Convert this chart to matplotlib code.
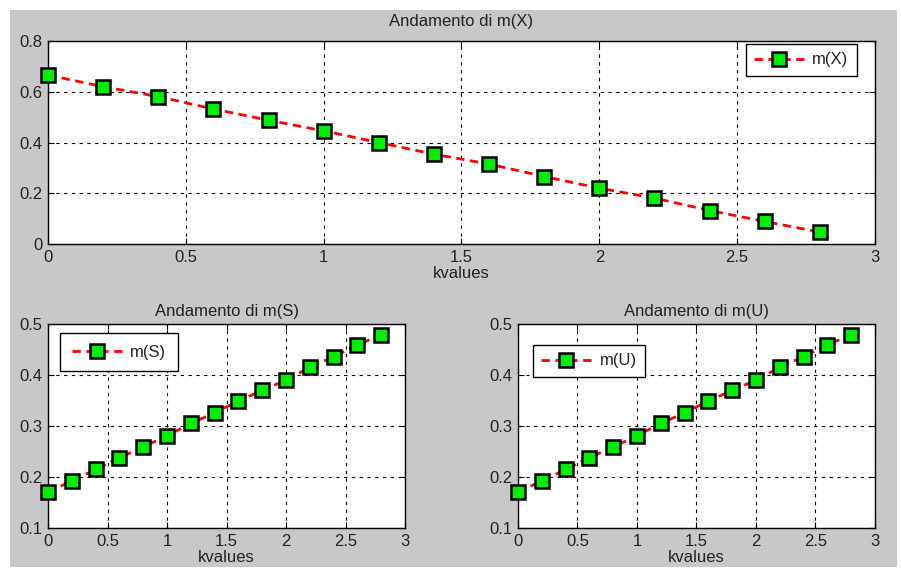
import numpy as np
import matplotlib.pyplot as plt
from matplotlib.patches import Rectangle
from matplotlib.ticker import FuncFormatter

# data
kvalues = [0.0, 0.2, 0.4, 0.6, 0.8, 1.0, 1.2, 1.4, 1.6, 1.8, 2.0, 2.2, 2.4, 2.6, 2.8]
m_x = [0.666, 0.620, 0.581, 0.532, 0.488, 0.446, 0.400, 0.354, 0.315,
       0.266, 0.220, 0.181, 0.132, 0.089, 0.047]
m_s = [0.171, 0.192, 0.215, 0.238, 0.259, 0.281, 0.305, 0.326, 0.349,
       0.370, 0.390, 0.415, 0.436, 0.459, 0.479]
m_u = [0.171, 0.192, 0.215, 0.238, 0.259, 0.281, 0.305, 0.326, 0.349,
       0.370, 0.390, 0.415, 0.436, 0.459, 0.479]

x_ticks = [0, 0.5, 1, 1.5, 2, 2.5, 3]
y_ticks_top = [0, 0.2, 0.4, 0.6, 0.8]
y_ticks_bottom = [0.1, 0.2, 0.3, 0.4, 0.5]

plt.rcParams['font.family'] = ['Liberation Sans', 'DejaVu Sans']
FS = 12

GREY = '#c8c8c8'
TXT = '#222222'


def fmt(v, pos):
    return f"{v:g}"


def style_axes(ax, yticks, title, title_pad=6):
    ax.set_xlim(0, 3)
    ax.set_ylim(yticks[0], yticks[-1])
    ax.set_xticks(x_ticks)
    ax.set_yticks(yticks)
    ax.xaxis.set_major_formatter(FuncFormatter(fmt))
    ax.yaxis.set_major_formatter(FuncFormatter(fmt))
    ax.tick_params(direction='in', length=4, width=0.8, top=True, right=True,
                   labelsize=FS, colors='black', pad=4)
    for tl in ax.get_xticklabels() + ax.get_yticklabels():
        tl.set_color(TXT)
    ax.grid(True, color='black', linestyle=(0, (3, 4)), linewidth=0.8)
    ax.set_axisbelow(True)
    for sp in ax.spines.values():
        sp.set_linewidth(1.0)
    ax.set_xlabel('kvalues', fontsize=FS, labelpad=1, color=TXT)
    ax.set_title(title, fontsize=FS, pad=title_pad, color=TXT)


def plot_series(ax, y, label):
    ax.plot(kvalues, y, linestyle=(0, (3, 2)), color='#ff0000', linewidth=2.0,
            marker='s', markersize=10, markerfacecolor='#00ee00',
            markeredgecolor='black', markeredgewidth=1.8, label=label,
            zorder=3, clip_on=False)


def add_legend(ax, loc, anchor, borderpad=0.5):
    leg = ax.legend(loc=loc, bbox_to_anchor=anchor, borderaxespad=0,
                    fancybox=False, framealpha=1, edgecolor='black',
                    handlelength=3.0, handletextpad=0.5, fontsize=FS,
                    borderpad=borderpad)
    leg.get_frame().set_linewidth(1.0)
    for t in leg.get_texts():
        t.set_color(TXT)


fig = plt.figure(figsize=(9.01, 5.72), dpi=100, facecolor='white')
fig.patches.append(Rectangle((10 / 901, 5 / 572), 887 / 901, 557 / 572,
                             transform=fig.transFigure, facecolor=GREY,
                             edgecolor='none', zorder=-10))

ax_top = fig.add_axes([0.0533, 0.5734, 0.9178, 0.3549])
plot_series(ax_top, m_x, 'm(X)')
style_axes(ax_top, y_ticks_top, 'Andamento di m(X)', title_pad=11)
add_legend(ax_top, 'upper right', (0.978, 0.985))

ax_s = fig.add_axes([0.0533, 0.0769, 0.3962, 0.3566])
plot_series(ax_s, m_s, 'm(S)')
style_axes(ax_s, y_ticks_bottom, 'Andamento di m(S)')
add_legend(ax_s, 'upper left', (0.034, 0.956), borderpad=0.7)

ax_u = fig.add_axes([0.5749, 0.0769, 0.3962, 0.3566])
plot_series(ax_u, m_u, 'm(U)')
style_axes(ax_u, y_ticks_bottom, 'Andamento di m(U)')
add_legend(ax_u, 'upper left', (0.042, 0.897))

fig.savefig('out.png', dpi=100, facecolor=fig.get_facecolor())
